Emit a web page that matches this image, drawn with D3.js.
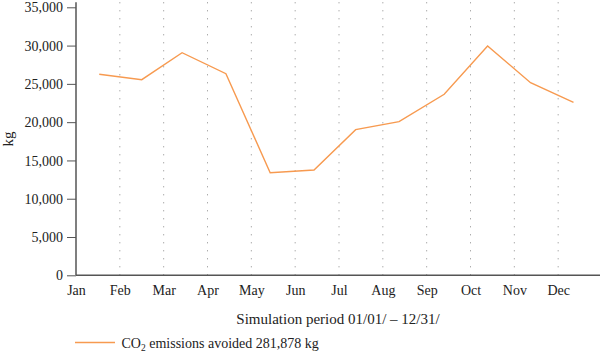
<!DOCTYPE html>
<html>
<head>
<meta charset="utf-8">
<script src="https://cdn.jsdelivr.net/npm/d3@7"></script>
<style>
  html, body { margin: 0; padding: 0; background: #fff; }
  svg { display: block; }
  text { font-family: "Liberation Serif", "DejaVu Serif", serif; fill: #222; }
</style>
</head>
<body>
<svg id="chart" width="600" height="355"></svg>
<script>
// ---- data ----
const months = ["Jan","Feb","Mar","Apr","May","Jun","Jul","Aug","Sep","Oct","Nov","Dec"];
// position of each monthly point, in months from Jan 1
const pointPos = [0.53, 1.50, 2.42, 3.42, 4.43, 5.43, 6.38, 7.37, 8.40, 9.39, 10.37, 11.35];
// CO2 emissions avoided per month, kg
const co2Values = [26250, 25550, 29070, 26330, 13400, 13750, 19020, 20060, 23640, 29950, 25150, 22590];
const yTicks = [0, 5000, 10000, 15000, 20000, 25000, 30000, 35000];
const xTitle = "Simulation period 01/01/ – 12/31/";
const yTitle = "kg";
const legendTotal = "281,878";

// ---- layout ----
const svg = d3.select("#chart");
const mLeft = 76, mRight = 602, mTop = 7.3, mBottom = 275.3;
const lineColor = "#f79a50";
const axisColor = "#555";

const x = d3.scaleLinear().domain([0, 12]).range([mLeft, mRight]);
const y = d3.scaleLinear().domain([0, 35000]).range([mBottom, mTop]);

// gridlines (month boundaries Feb..Dec)
svg.append("g").selectAll("line")
  .data(d3.range(1, 12))
  .join("line")
  .attr("x1", d => x(d)).attr("x2", d => x(d))
  .attr("y1", y(35000) - 5).attr("y2", mBottom)
  .attr("stroke", "#8a8a8a")
  .attr("stroke-width", 1)
  .attr("stroke-dasharray", "1,7");

// y axis
const yAxis = d3.axisLeft(y).tickValues(yTicks).tickFormat(d3.format(",")).tickSize(9).tickSizeOuter(0);
const gy = svg.append("g").attr("transform", `translate(${mLeft},0)`).call(yAxis);
gy.select(".domain").attr("d", `M0,${mTop - 5}V${mBottom}`).attr("stroke", axisColor).attr("stroke-width", 1.5);
gy.selectAll(".tick line").attr("stroke", axisColor).attr("stroke-width", 1);
gy.selectAll(".tick text").attr("x", -13).attr("dy", "0.33em")
  .style("font-family", '"Liberation Serif", serif').style("font-size", "14px").attr("fill", "#222");

// x axis
const xAxis = d3.axisBottom(x).tickValues(d3.range(0, 12)).tickFormat(i => months[i]).tickSize(0).tickSizeOuter(0);
const gx = svg.append("g").attr("transform", `translate(0,${mBottom})`).call(xAxis);
gx.select(".domain").attr("d", `M${mLeft},0H600`).attr("stroke", axisColor).attr("stroke-width", 1.5);
gx.selectAll(".tick text").attr("y", 10).attr("dy", "0.71em")
  .style("font-family", '"Liberation Serif", serif').style("font-size", "14px").attr("fill", "#222");

// line
const line = d3.line().x((d, i) => x(pointPos[i])).y(d => y(d));
svg.append("path")
  .datum(co2Values)
  .attr("d", line)
  .attr("fill", "none")
  .attr("stroke", lineColor)
  .attr("stroke-width", 1.4);

// axis titles
svg.append("text")
  .attr("x", (mLeft + 600) / 2).attr("y", 323.5)
  .attr("text-anchor", "middle")
  .style("font-size", "15px")
  .text(xTitle);

svg.append("text")
  .attr("transform", `translate(13,139) rotate(-90)`)
  .attr("text-anchor", "middle")
  .style("font-size", "15px")
  .text(yTitle);

// legend
svg.append("line")
  .attr("x1", 75).attr("x2", 115).attr("y1", 342.5).attr("y2", 342.5)
  .attr("stroke", lineColor).attr("stroke-width", 1.4);
const lt = svg.append("text").attr("x", 121.5).attr("y", 347.5).style("font-size", "14px");
lt.append("tspan").text("CO");
lt.append("tspan").attr("dy", 3).style("font-size", "9.5px").text("2");
lt.append("tspan").attr("dy", -3).text(` emissions avoided ${legendTotal} kg`);
</script>
</body>
</html>
